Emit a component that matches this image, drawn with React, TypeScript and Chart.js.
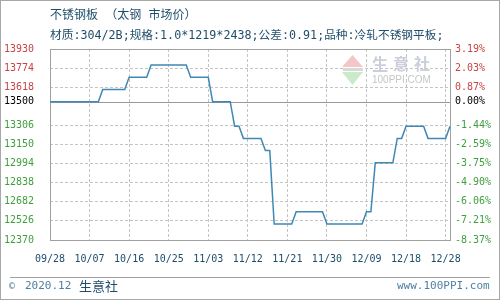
import React, { useEffect, useRef } from "react";
import { Chart, registerables } from "chart.js";

Chart.register(...registerables);

// daily price, 09/28 .. 12/28
const prices: number[] = [
  13500, 13500, 13500, 13500, 13500, 13500, 13500, 13500, 13500, 13500, 13500, 13500,
  13600, 13600, 13600, 13600, 13600, 13600,
  13700, 13700, 13700, 13700, 13700,
  13800, 13800, 13800, 13800, 13800, 13800, 13800, 13800, 13800,
  13700, 13700, 13700, 13700, 13700,
  13500, 13500, 13500, 13500, 13500,
  13300, 13300,
  13200, 13200, 13200, 13200, 13200,
  13100, 13100,
  12500, 12500, 12500, 12500, 12500,
  12600, 12600, 12600, 12600, 12600, 12600, 12600,
  12500, 12500, 12500, 12500, 12500, 12500, 12500, 12500, 12500,
  12600, 12600,
  13000, 13000, 13000, 13000, 13000,
  13200, 13200,
  13300, 13300, 13300, 13300, 13300,
  13200, 13200, 13200, 13200, 13200,
  13300,
];

const categories: string[] = prices.map((_, i) => String(i));

const xTickLabels: string[] = [
  "09/28", "10/07", "10/16", "10/25", "11/03", "11/12",
  "11/21", "11/30", "12/09", "12/18", "12/28",
];
const xTickStep = 9;

const yTicks: number[] = [12370, 12526, 12682, 12838, 12994, 13150, 13306, 13500, 13618, 13774, 13930];
const yMin = 12370;
const yMax = 13930;
const basePrice = 13500;

const RED = "#c84444";
const GREEN = "#3f9f3f";
const BLACK = "#000000";
const TEAL = "#1e4d6b";
const SOFT = "#4f7fa0";
const MONO = "'DejaVu Sans Mono', monospace";
const CJK = "'DejaVu Sans Mono', 'Noto Sans CJK SC', sans-serif";

const tickColor = (v: number) => (v > basePrice ? RED : v < basePrice ? GREEN : BLACK);
const pct = (v: number) => (((v - basePrice) / basePrice) * 100).toFixed(2) + "%";

const framePlugin = {
  id: "frame",
  beforeDraw(chart: any) {
    const c = chart.ctx;
    c.save();
    c.fillStyle = "#ffffff";
    c.fillRect(0, 0, chart.width, chart.height);
    c.restore();
  },
  beforeDatasetsDraw(chart: any) {
    const c = chart.ctx;
    const a = chart.chartArea;
    const ys = chart.scales.y;
    c.save();
    // watermark
    c.fillStyle = "#f5c6c6";
    c.beginPath();
    c.moveTo(342, 67);
    c.lineTo(352.5, 55);
    c.lineTo(363, 67);
    c.closePath();
    c.fill();
    c.fillStyle = "#c9ebc9";
    c.beginPath();
    c.moveTo(342, 72);
    c.lineTo(363, 72);
    c.lineTo(352.5, 85);
    c.closePath();
    c.fill();
    c.fillStyle = "#d8d8d8";
    c.fillRect(343, 68, 20, 3);
    c.fillStyle = "#cbcfdb";
    c.font = "bold 16px 'Noto Sans CJK SC'";
    c.textBaseline = "middle";
    c.textAlign = "left";
    ["生", "意", "社"].forEach((ch, i) => c.fillText(ch, 372 + i * 21, 64));
    c.fillStyle = "#c6c6c6";
    c.font = "10px 'Liberation Sans'";
    c.fillText("100PPI.COM", 372, 80);
    // base line
    const yb = Math.round(ys.getPixelForValue(basePrice)) + 0.5;
    c.strokeStyle = "#999999";
    c.lineWidth = 1;
    c.beginPath();
    c.moveTo(a.left, yb);
    c.lineTo(a.right, yb);
    c.stroke();
    // plot border
    c.strokeStyle = "#a0a0a0";
    c.strokeRect(a.left + 0.5, a.top + 0.5, a.right - a.left, a.bottom - a.top);
    // outer border + footer rule
    c.strokeStyle = "#a8a8a8";
    c.strokeRect(0.5, 0.5, chart.width - 1, chart.height - 1);
    c.strokeStyle = "#a0a0a0";
    c.beginPath();
    c.moveTo(10, 277.5);
    c.lineTo(490, 277.5);
    c.stroke();
    c.restore();
  },
};

export default function App() {
  const ref = useRef<HTMLCanvasElement | null>(null);

  useEffect(() => {
    if (!ref.current) return;
    const chart = new Chart(ref.current, {
      type: "line",
      data: {
        labels: categories,
        datasets: [
          {
            data: prices,
            borderColor: "#3f88b5",
            borderWidth: 1.5,
            pointRadius: 0,
            tension: 0,
            fill: false,
            yAxisID: "y",
          },
        ],
      },
      options: {
        animation: false,
        responsive: false,
        devicePixelRatio: 1,
        layout: { padding: { top: 49, left: 0, right: 0, bottom: 0 } },
        plugins: {
          legend: { display: false },
          tooltip: { enabled: false },
        },
        scales: {
          x: {
            type: "category",
            offset: false,
            afterBuildTicks: (s: any) => {
              s.ticks = xTickLabels.map((_, k) => ({ value: k * xTickStep }));
            },
            afterFit: (s: any) => {
              s.height = 60;
            },
            ticks: {
              autoSkip: false,
              maxRotation: 0,
              minRotation: 0,
              padding: 13,
              color: TEAL,
              font: { family: MONO, size: 10 },
              callback: (_v: any, i: number) => xTickLabels[i],
            },
            grid: { color: "#c4c4c4", lineWidth: 1, drawTicks: false },
            border: { display: false, dash: [3, 2] },
          },
          y: {
            position: "left",
            min: yMin,
            max: yMax,
            afterBuildTicks: (s: any) => {
              s.ticks = yTicks.map((v) => ({ value: v }));
            },
            afterFit: (s: any) => {
              s.width = 50;
            },
            ticks: {
              padding: 16,
              color: (ctx: any) => tickColor(ctx.tick.value),
              font: { family: MONO, size: 10 },
              callback: (v: any) => String(v),
            },
            grid: {
              color: (ctx: any) => (ctx.tick && ctx.tick.value === basePrice ? "rgba(0,0,0,0)" : "#c4c4c4"),
              drawTicks: false,
            },
            border: { display: false, dash: [3, 2] },
          },
          y2: {
            position: "right",
            min: yMin,
            max: yMax,
            afterBuildTicks: (s: any) => {
              s.ticks = yTicks.map((v) => ({ value: v }));
            },
            afterFit: (s: any) => {
              s.width = 50;
            },
            ticks: {
              padding: 5,
              color: (ctx: any) => tickColor(ctx.tick.value),
              font: { family: MONO, size: 10 },
              callback: (v: any) => pct(Number(v)),
            },
            grid: { display: false, drawTicks: false },
            border: { display: false },
          },
        },
      } as any,
      plugins: [framePlugin],
    });
    return () => chart.destroy();
  }, []);

  const abs = (left: number, top: number): React.CSSProperties => ({
    position: "absolute",
    left,
    top,
    whiteSpace: "nowrap",
    lineHeight: "14px",
  });

  return (
    <div style={{ position: "absolute", left: 0, top: 0, width: 500, height: 300, background: "#fff" }}>
      <canvas ref={ref} width={500} height={300} style={{ position: "absolute", left: 0, top: 0, width: 500, height: 300 }} />
      <div style={{ ...abs(50, 8), fontFamily: CJK, fontSize: 12, color: TEAL }}>不锈钢板 （太钢 市场价）</div>
      <div style={{ ...abs(50, 28), fontFamily: CJK, fontSize: 11.7, color: TEAL }}>
        材质:304/2B;规格:1.0*1219*2438;公差:0.91;品种:冷轧不锈钢平板;
      </div>
      <div style={{ ...abs(9, 279), fontFamily: MONO, fontSize: 10, color: SOFT }}>©</div>
      <div style={{ ...abs(25, 279), fontFamily: MONO, fontSize: 11, color: SOFT }}>2020.12</div>
      <div style={{ ...abs(79, 279), fontFamily: "'Noto Sans CJK SC'", fontSize: 13, color: TEAL }}>生意社</div>
      <div style={{ ...abs(397, 279), fontFamily: MONO, fontSize: 11, color: SOFT }}>www.100PPI.com</div>
    </div>
  );
}
